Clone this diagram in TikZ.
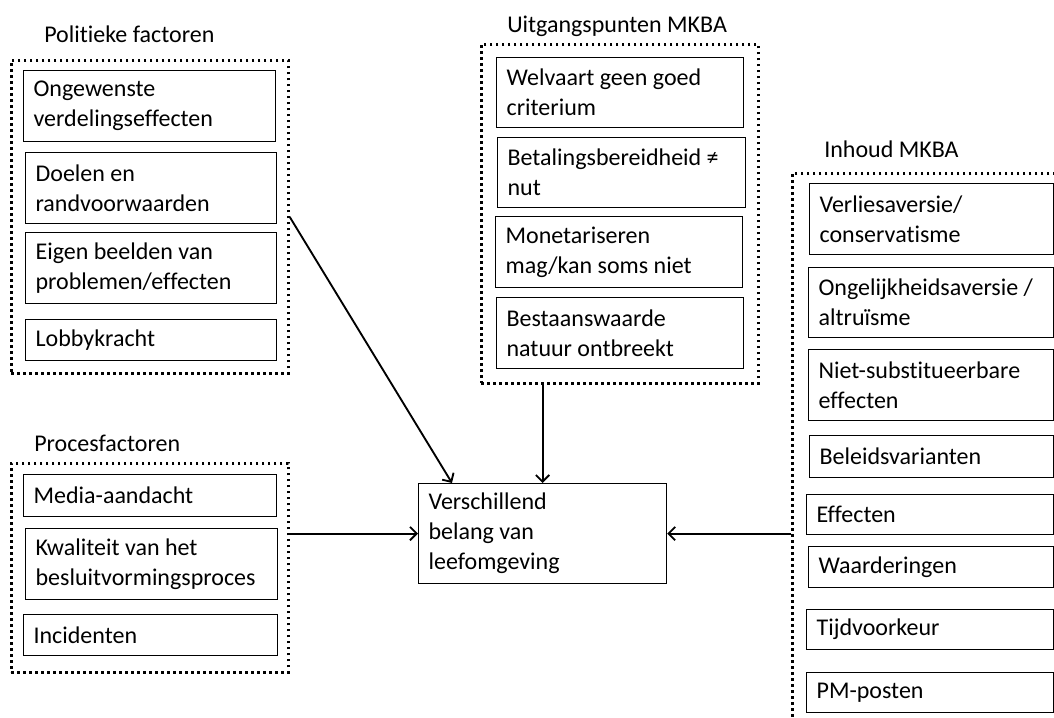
\documentclass[tikz,border=0pt]{standalone}
\usepackage{fontspec}
\setmainfont{Carlito}[Ligatures=NoCommon]
\usetikzlibrary{arrows.meta,calc}
\tikzset{
  txt/.style={font=\fontsize{18pt}{22.5pt}\selectfont, inner sep=0pt},
  ibox/.style={draw, line width=0.9pt, txt, align=flush left, inner xsep=7.5pt, inner ysep=0pt},
  frame/.style={draw, line width=2pt, dash pattern=on 2pt off 2.5pt, inner sep=0pt},
  arr/.style={line width=1.4pt, -{Straight Barb[length=5pt,width=10pt,line width=1.4pt]}},
  ttl/.style={txt, anchor=west}
}
\newcommand\mybox[6]{%
  \pgfmathsetmacro\bw{(#4-#2)*0.75}%
  \pgfmathsetmacro\bh{(#5-#3)*0.75}%
  \pgfmathsetmacro\tw{\bw-15}%
  \node[ibox, anchor=north west, minimum height=\bh pt, text width=\tw pt] (#1) at (#2,#3) {#6};%
}
\newcommand\myframe[5]{%
  \pgfmathsetmacro\bw{(#4-#2)*0.75}%
  \pgfmathsetmacro\bh{(#5-#3)*0.75}%
  \node[frame, anchor=north west, minimum width=\bw pt, minimum height=\bh pt] (#1) at (#2,#3) {};%
}
\begin{document}
\begin{tikzpicture}[x=0.75pt,y=-0.75pt]
\useasboundingbox (0,0) rectangle (1054,718);
\clip (0,0) rectangle (1054,718);
\fill[white] (0,0) rectangle (1054,718);

% Politieke factoren
\node[ttl] (tpol) at (44,34) {Politieke factoren};
\myframe{pol}{10}{59}{287}{372}
\mybox{p1}{23}{70}{275}{141}{Ongewenste\\verdelingseffecten}
\mybox{p2}{25}{152}{276}{223}{Doelen en\\randvoorwaarden}
\mybox{p3}{25}{232}{276}{303}{Eigen beelden van\\problemen/effecten}
\mybox{p4}{25}{319}{276}{360}{Lobbykracht}

% Procesfactoren
\node[ttl] (tproc) at (34,443) {Procesfactoren};
\myframe{proc}{10}{462}{287}{671}
\mybox{q1}{23}{474}{276}{516}{Media-aandacht}
\mybox{q2}{25}{528}{277}{599}{Kwaliteit van het\\besluitvormingsproces}
\mybox{q3}{23}{614}{277}{655}{Incidenten}

% Uitgangspunten MKBA
\node[ttl] (tuit) at (507,26) {Uitgangspunten MKBA};
\myframe{uit}{480}{43}{757}{382}
\mybox{u1}{496}{57}{743}{127}{Welvaart geen goed\\criterium}
\mybox{u2}{497}{137}{745}{207}{Betalingsbereidheid ≠\\nut}
\mybox{u3}{495}{216}{742}{287}{Monetariseren\\mag/kan soms niet}
\mybox{u4}{496}{297}{743}{368}{Bestaanswaarde\\natuur ontbreekt}

% Inhoud MKBA
\node[ttl] (tinh) at (824,149) {Inhoud MKBA};
\myframe{inh}{791}{172}{1070}{735}
\mybox{i1}{809}{183}{1053}{254}{Verliesaversie/\\conservatisme}
\mybox{i2}{808}{267}{1053}{337}{Ongelijkheidsaversie /\\altruïsme}
\mybox{i3}{808}{349}{1053}{420}{Niet-substitueerbare\\effecten}
\mybox{i4}{809}{435}{1053}{477}{Beleidsvarianten}
\mybox{i5}{806}{494}{1053}{534}{Effecten}
\mybox{i6}{808}{546}{1053}{587}{Waarderingen}
\mybox{i7}{806}{609}{1053}{649}{Tijdvoorkeur}
\mybox{i8}{806}{672}{1053}{712}{PM-posten}

% Centre
\mybox{ctr}{418}{483}{666}{583}{Verschillend\\belang van\\leefomgeving}

% Connectors
\coordinate (polend) at ([xshift=25.5pt]ctr.north west);
\draw[arr] (pol.east) -- (polend);
\draw[arr] (uit.south -| ctr.north) -- (ctr.north);
\draw[arr] (proc.east |- ctr.west) -- (ctr.west);
\draw[arr] (inh.west |- ctr.east) -- (ctr.east);
\end{tikzpicture}
\end{document}
